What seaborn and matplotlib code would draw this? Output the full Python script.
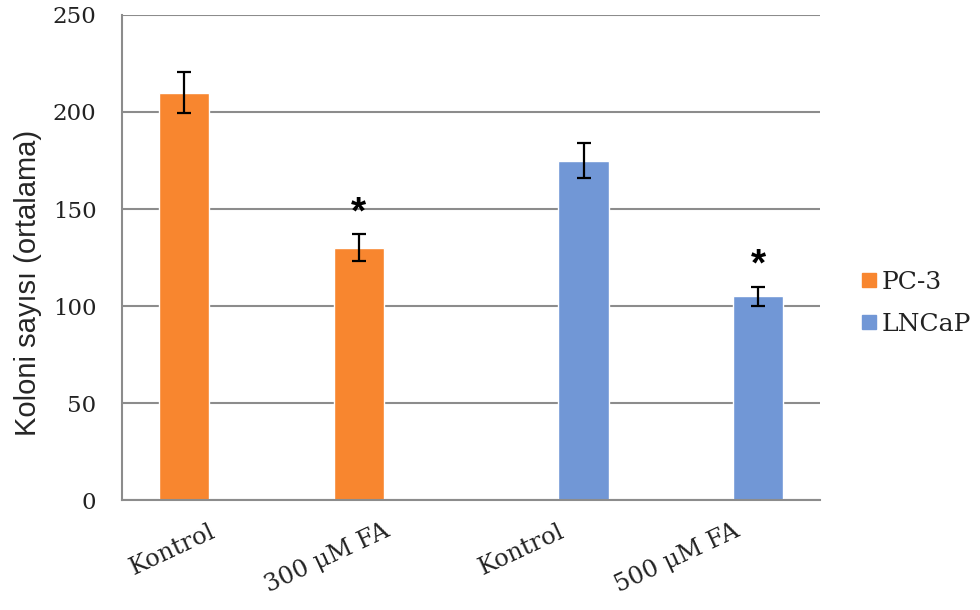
import numpy as np
import pandas as pd
import matplotlib
matplotlib.use("Agg")
import matplotlib.pyplot as plt
import seaborn as sns
from matplotlib.lines import Line2D

# Colony counts (mean ± error) per condition and cell line
conditions = ["Kontrol_PC3", "300FA", "Kontrol_LNCaP", "500FA"]
tick_labels = ["Kontrol", "300 \u03bcM FA", "Kontrol", "500 \u03bcM FA"]
cell_lines = ["PC-3", "PC-3", "LNCaP", "LNCaP"]
means = [210, 130, 175, 105]
errors = [10.5, 7, 9, 5]
significant = [False, True, False, True]

series_order = ["PC-3", "LNCaP"]
colors = {"PC-3": "#F8862F", "LNCaP": "#7197D6"}

df = pd.DataFrame({"cond": conditions, "line": cell_lines, "mean": means,
                   "err": errors, "sig": significant})

sns.set_style("white")
serif = ["DejaVu Serif"]
sans = ["Liberation Sans", "DejaVu Sans"]

fig = plt.figure(figsize=(9.8, 6.1), dpi=100)
ax = fig.add_axes([0.1245, 0.18, 0.7125, 0.7955])

sns.barplot(data=df, x="cond", y="mean", hue="line", order=conditions,
            hue_order=series_order, palette=colors, dodge=True, width=0.575,
            errorbar=None, saturation=1, legend=False, ax=ax, zorder=3)

# error bars and significance marks placed on each drawn bar
err_by_cat = dict(zip(range(len(conditions)), errors))
sig_by_cat = dict(zip(range(len(conditions)), significant))
mean_by_cat = dict(zip(range(len(conditions)), means))
for p in ax.patches:
    h = p.get_height()
    if not np.isfinite(h) or h == 0:
        continue
    cx = p.get_x() + p.get_width() / 2
    idx = int(round(cx))
    e = err_by_cat[idx]
    ax.errorbar(cx, mean_by_cat[idx], yerr=e, fmt="none", ecolor="black",
                elinewidth=1.6, capsize=5, capthick=1.6, zorder=4)
    if sig_by_cat[idx]:
        ax.annotate("*", xy=(cx, mean_by_cat[idx] + e), xytext=(0, 2),
                    textcoords="offset points", ha="center", va="bottom",
                    fontsize=28, fontweight="bold", color="black",
                    family=sans)

ax.set_ylim(0, 250)
ax.set_xlim(-0.5, len(conditions) - 0.5)
ax.set_yticks(np.arange(0, 251, 50))
ax.yaxis.grid(True, color="#8c8c8c", linewidth=1.5, zorder=0)
ax.set_axisbelow(True)

ax.set_xticks(range(len(conditions)))
ax.set_xticklabels([])
ax.set_xticks(np.arange(-0.5, len(conditions), 1.0), minor=True)
ax.tick_params(axis="x", which="major", length=0)
ax.tick_params(axis="x", which="minor", length=6.5, width=1.5,
               color="#8c8c8c", direction="out")
ax.tick_params(axis="y", length=6.5, width=1.5, color="#8c8c8c",
               direction="out", labelsize=16.5, pad=12)
for lbl in ax.get_yticklabels():
    lbl.set_family(serif)
    lbl.set_color("#222222")

for i, t in enumerate(tick_labels):
    ax.annotate(t, xy=(i, 0), xycoords=("data", "axes fraction"),
                xytext=(0, -14), textcoords="offset points",
                rotation=25, rotation_mode="anchor", ha="right", va="top",
                fontsize=17.5, family=serif, color="#222222")

for side in ["top", "right"]:
    ax.spines[side].set_visible(False)
for side in ["left", "bottom"]:
    ax.spines[side].set_color("#8c8c8c")
    ax.spines[side].set_linewidth(1.5)
    ax.spines[side].set_zorder(5)

ax.set_xlabel("")
ax.set_ylabel("Koloni say\u0131s\u0131 (ortalama)", fontsize=21,
              family=sans)
ax.yaxis.set_label_coords(-0.115, 0.447)

handles = [Line2D([], [], marker="s", linestyle="none", markersize=10,
                  markerfacecolor=colors[s], markeredgecolor=colors[s])
           for s in series_order]
leg = fig.legend(handles, series_order, loc="center left",
                 bbox_to_anchor=(0.855, 0.503), frameon=False,
                 prop={"family": serif, "size": 18}, handletextpad=0.15,
                 labelspacing=0.75, handlelength=0.7)
for txt in leg.get_texts():
    txt.set_color("#222222")

fig.savefig("out.png", dpi=100)
